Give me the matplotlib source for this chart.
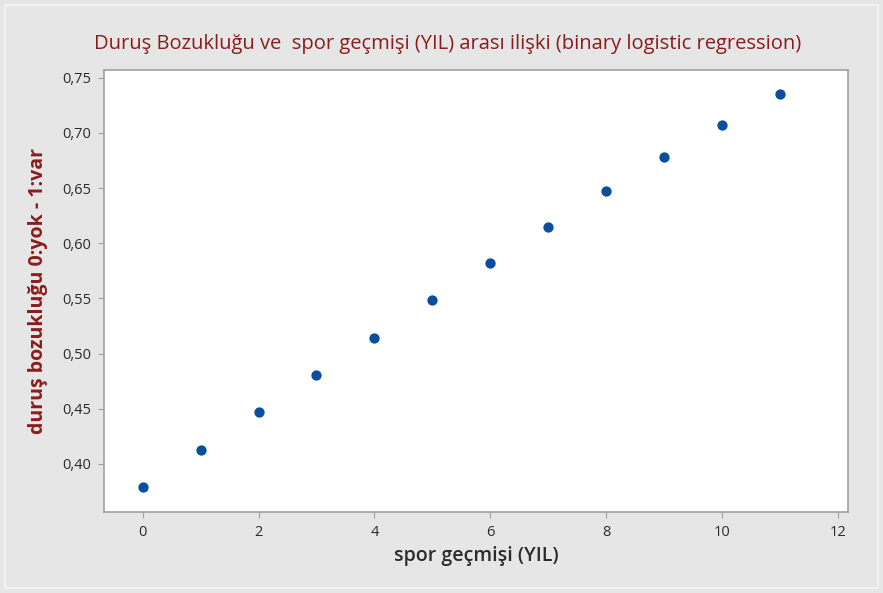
import matplotlib
matplotlib.use("Agg")
import matplotlib.pyplot as plt
from matplotlib.ticker import FuncFormatter
from matplotlib.patches import Rectangle

spor_yil = [0, 1, 2, 3, 4, 5, 6, 7, 8, 9, 10, 11]
olasilik = [0.379, 0.413, 0.447, 0.481, 0.514, 0.549, 0.582, 0.615, 0.647, 0.678, 0.707, 0.735]
x_ticks = [0, 2, 4, 6, 8, 10, 12]
y_ticks = [0.40, 0.45, 0.50, 0.55, 0.60, 0.65, 0.70, 0.75]

title = "Duruş Bozukluğu ve  spor geçmişi (YIL) arası ilişki (binary logistic regression)"
xlabel = "spor geçmişi (YIL)"
ylabel = "duruş bozukluğu 0:yok - 1:var"

plt.rcParams['font.family'] = ['Open Sans', 'DejaVu Sans']

fig = plt.figure(figsize=(8.83, 5.93), dpi=100)
fig.patch.set_facecolor('#e6e6e6')
W, H = 883, 593
fig.patches.append(Rectangle((5 / W, 5 / H), 1 - 10 / W, 1 - 10 / H, transform=fig.transFigure,
                             fill=False, edgecolor='#f2f2f2', linewidth=1.5))
ax = fig.add_axes([104 / W, 1 - 512 / H, (848 - 104) / W, (512 - 70) / H])
ax.set_facecolor('white')

ax.scatter(spor_yil, olasilik, s=55, color='#0a4f9e', zorder=3, linewidths=0)

ax.set_xlim(-0.67, 12.18)
ax.set_ylim(0.3565, 0.757)
ax.set_xticks(x_ticks)
ax.set_yticks(y_ticks)
ax.yaxis.set_major_formatter(FuncFormatter(lambda v, p: f"{v:.2f}".replace('.', ',')))

for s in ax.spines.values():
    s.set_color('#a0a0a0')
    s.set_linewidth(1.2)
ax.tick_params(direction='out', length=4, color='#a0a0a0', labelsize=10.5,
               labelcolor='#2b2b2b', pad=5)

fig.text(448 / W, 1 - 44 / H, title, color='#8b1c1c', fontsize=14.5,
         ha='center', va='center')
ax.set_xlabel(xlabel, fontsize=14, fontweight='semibold', color='#2b2b2b', labelpad=5)
ax.set_ylabel(ylabel, fontsize=14, fontweight='bold', color='#8b1c1c', labelpad=10)

fig.savefig('out.png', dpi=100, facecolor=fig.get_facecolor())
